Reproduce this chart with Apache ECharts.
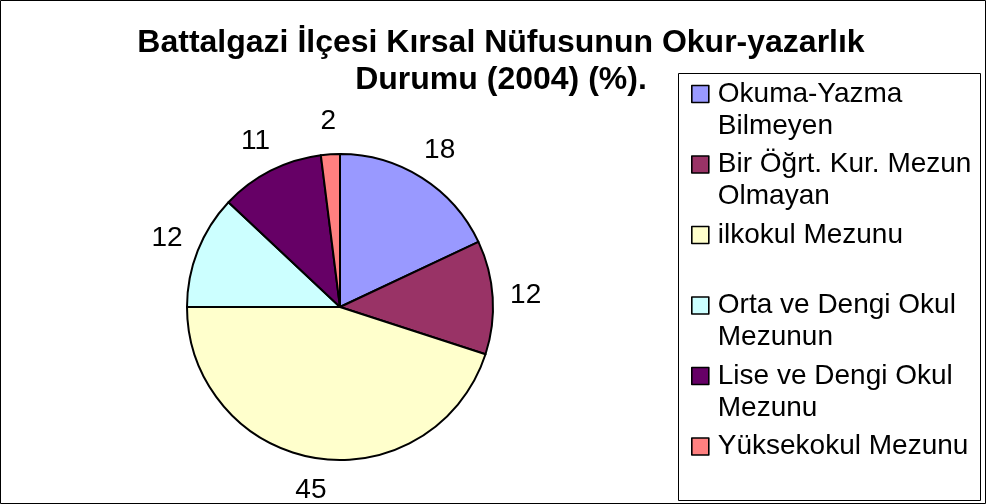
<!DOCTYPE html>
<html>
<head>
<meta charset="utf-8">
<script src="https://cdn.jsdelivr.net/npm/echarts@6/dist/echarts.min.js"></script>
<style>
  html, body { margin: 0; padding: 0; background: #fff; }
  #chart { width: 986px; height: 504px; }
</style>
</head>
<body>
<div id="chart"></div>
<script>
// education level of rural population, Battalgazi 2004 (%)
const categories = ['Okuma-Yazma Bilmeyen', 'Bir Öğrt. Kur. Mezun Olmayan', 'ilkokul Mezunu',
  'Orta ve Dengi Okul Mezunun', 'Lise ve Dengi Okul Mezunu', 'Yüksekokul Mezunu'];
const values = [18, 12, 45, 12, 11, 2];
const colors = ['#9999FF', '#993366', '#FFFFCC', '#CCFFFF', '#660066', '#FF8080'];
// how the legend wraps each name
const legendLines = [
  ['Okuma-Yazma', 'Bilmeyen'],
  ['Bir Öğrt. Kur. Mezun', 'Olmayan'],
  ['ilkokul Mezunu', ''],
  ['Orta ve Dengi Okul', 'Mezunun'],
  ['Lise ve Dengi Okul', 'Mezunu'],
  ['Yüksekokul Mezunu', '']
];

const font = 'Liberation Sans, Arial, sans-serif';
const nbsp = '\u00a0';
const pieData = categories.map((name, i) => ({ name: name, value: values[i], itemStyle: { color: colors[i] } }));

var myChart = echarts.init(document.getElementById('chart'));
var option = {
  animation: false,
  textStyle: { fontFamily: font },
  graphic: [
    {
      type: 'rect', silent: true, z: -10,
      shape: { x: 0.5, y: 0.5, width: 985, height: 503 },
      style: { fill: '#fff', stroke: '#000', lineWidth: 1 }
    },
    {
      // legend frame
      type: 'rect', silent: true, z: -5,
      shape: { x: 678.5, y: 73.5, width: 302, height: 427 },
      style: { fill: '#fff', stroke: '#000', lineWidth: 1 }
    }
  ],
  title: {
    text: 'Battalgazi İlçesi Kırsal Nüfusunun Okur-yazarlık\nDurumu (2004) (%).',
    left: 501,
    textAlign: 'center',
    top: 24.5,
    padding: 0,
    textStyle: { fontFamily: font, fontWeight: 'bold', fontSize: 32, lineHeight: 37, color: '#000' }
  },
  legend: {
    orient: 'vertical',
    left: 691,
    top: 46,
    data: categories,
    padding: 0,
    itemGap: -25.5,
    itemWidth: 17,
    itemHeight: 17,
    icon: 'rect',
    selectedMode: false,
    itemStyle: { borderColor: '#000', borderWidth: 1.6 },
    formatter: function (name) {
      const l = legendLines[categories.indexOf(name)];
      // blank first line keeps the icon beside the first text line
      return nbsp + '\n' + l[0] + '\n' + (l[1] || nbsp);
    },
    textStyle: { fontFamily: font, fontSize: 28, lineHeight: 32, color: '#000', padding: [0, 0, 0, 4] }
  },
  series: [
    {
      type: 'pie',
      center: [340, 307],
      radius: 153,
      startAngle: 90,
      clockwise: true,
      data: pieData,
      label: { show: false },
      labelLine: { show: false },
      itemStyle: { borderColor: '#000', borderWidth: 2 },
      emphasis: { disabled: true }
    },
    {
      // invisible disc that carries the value labels outside the pie
      type: 'pie',
      center: [340, 307],
      radius: [0, 366],
      startAngle: 90,
      clockwise: true,
      silent: true,
      z: 3,
      data: categories.map((name, i) => ({ name: name, value: values[i] })),
      itemStyle: { color: 'transparent', borderWidth: 0 },
      label: { show: true, position: 'inside', formatter: '{c}', fontFamily: font, fontSize: 28, color: '#000' },
      labelLine: { show: false },
      emphasis: { disabled: true }
    }
  ]
};
myChart.setOption(option);
</script>
</body>
</html>
